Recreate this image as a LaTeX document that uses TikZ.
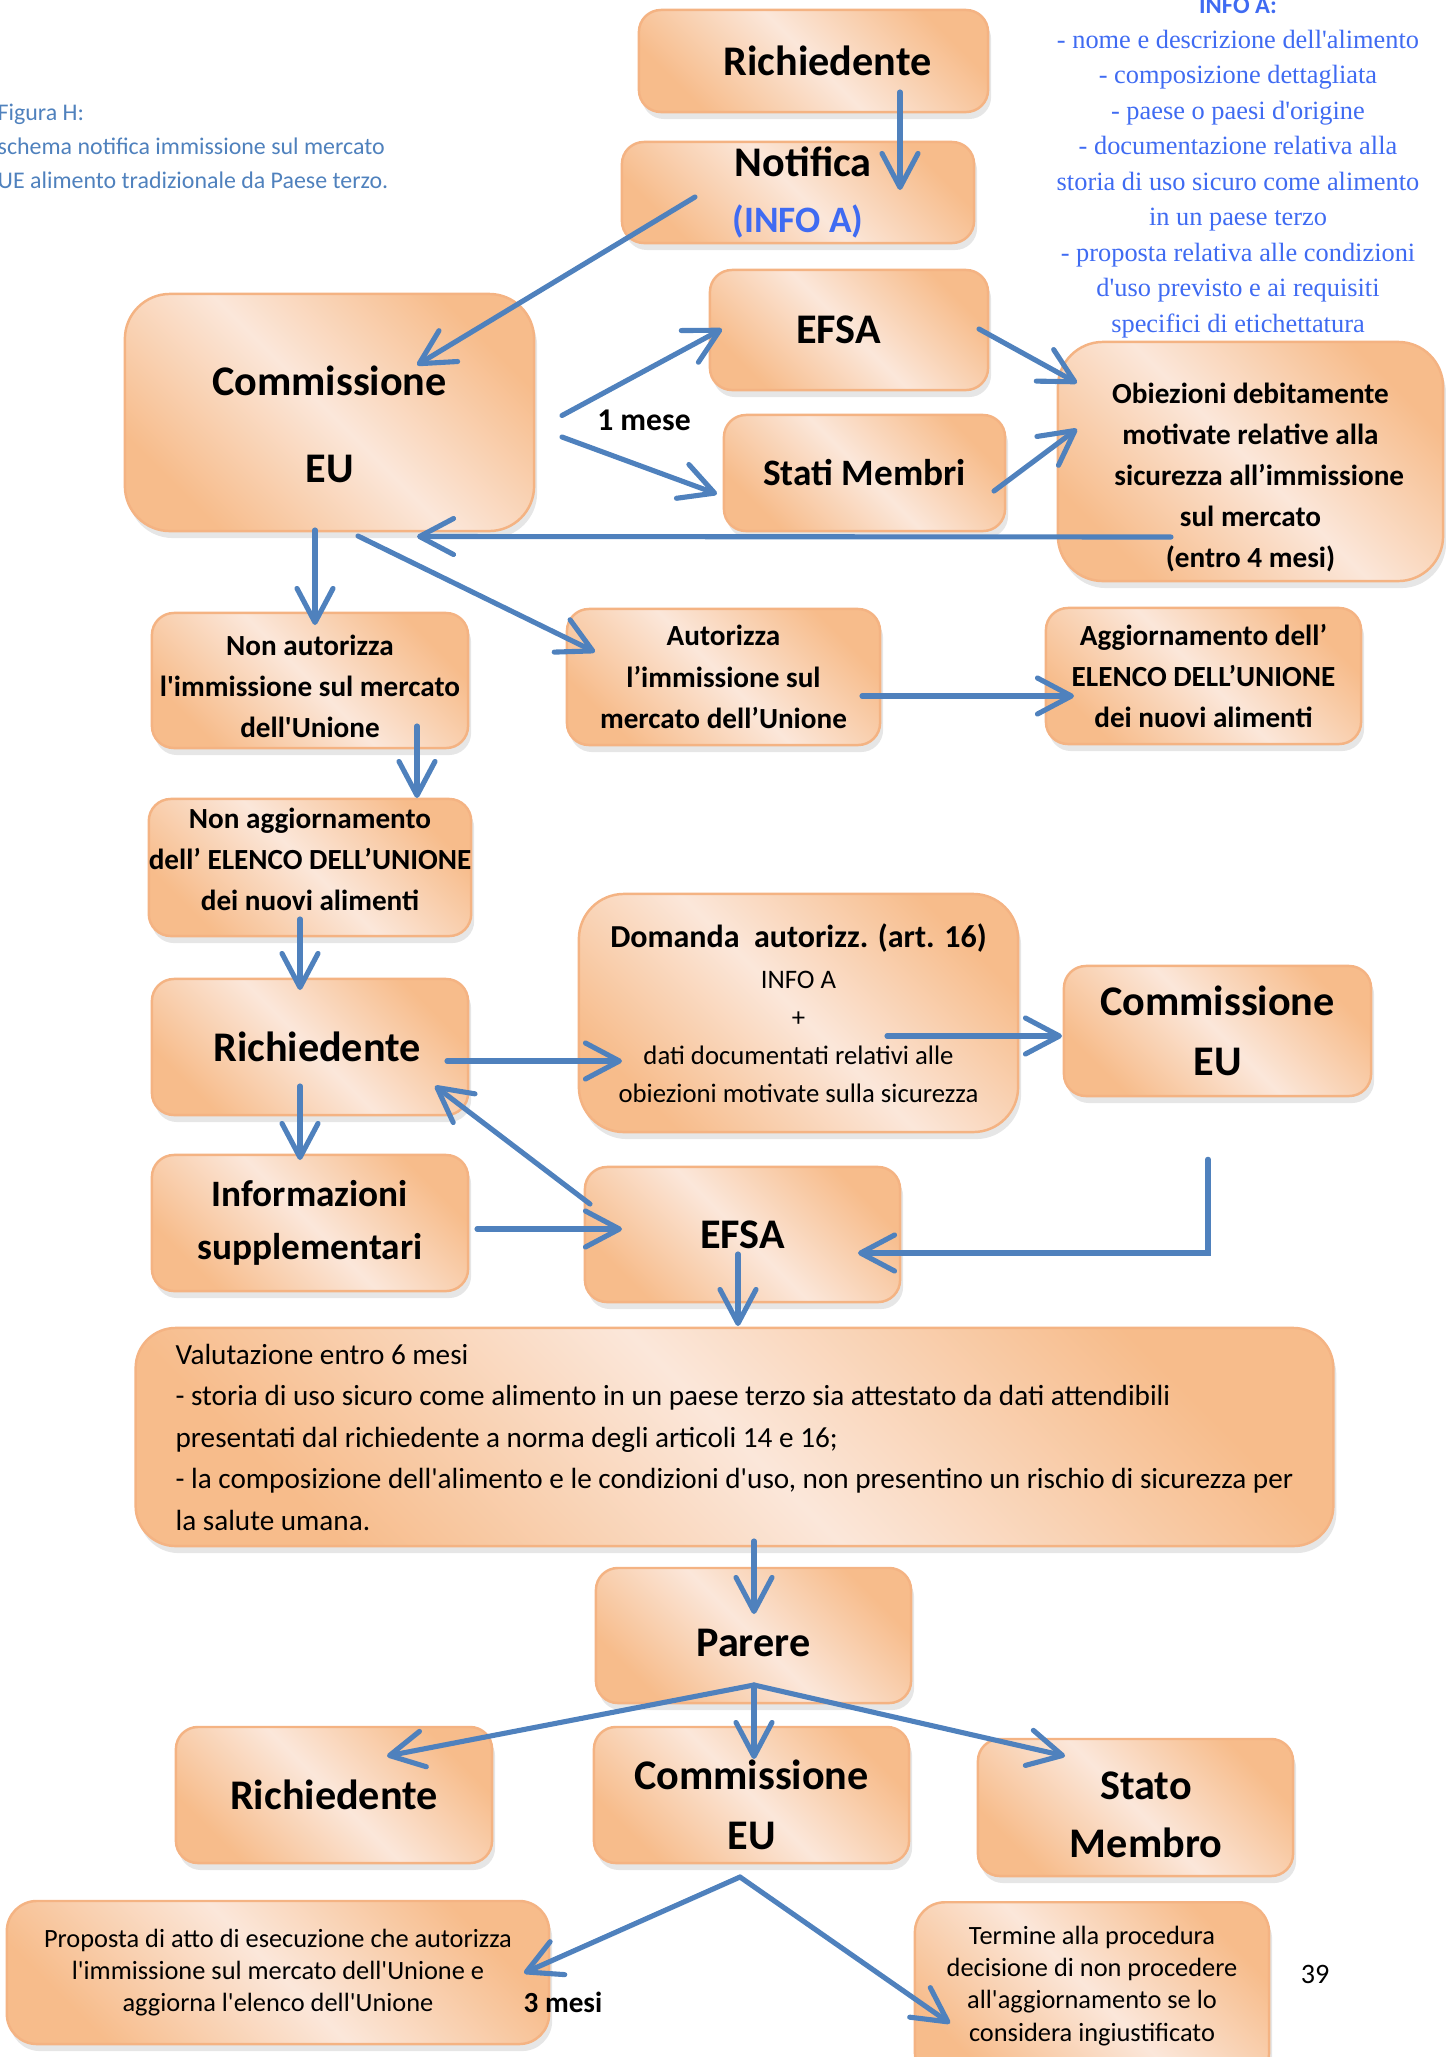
\documentclass[tikz,border=0pt]{standalone}
\usepackage{fontspec}
\setmainfont{Carlito}[Ligatures=TeXOff]
\newfontfamily\infofont{Liberation Serif}[Ligatures=TeXOff]
\usetikzlibrary{arrows.meta,shadows}
\definecolor{boxorange}{HTML}{F7BC8B}
\definecolor{boxlight}{HTML}{FBE7DA}
\definecolor{boxline}{HTML}{F4B383}
\definecolor{arrowblue}{HTML}{4F81BD}
\definecolor{infoblue}{HTML}{3F6BF2}
\definecolor{capblue}{HTML}{4F81BD}
\tikzset{
  box/.style={draw=boxline, line width=0.7pt, rounded corners=0.22cm,
    top color=boxorange, bottom color=boxorange, middle color=boxlight,
    shading angle=-45, align=center, inner sep=0pt,
    drop shadow={opacity=0.2, shadow xshift=0.03cm, shadow yshift=-0.07cm}},
  title/.style={font=\fontsize{12}{#1}\selectfont\bfseries},
  title/.default=15.6,
  smallbold/.style={font=\fontsize{8.3}{11.7}\selectfont\bfseries},
  flow/.style={draw=arrowblue, line width=1.45pt, line cap=round,
    -{Straight Barb[length=0.34cm, width=0.36cm, round]}},
}
\begin{document}
\begin{tikzpicture}[x=0.01cm, y=-0.01cm]
	\useasboundingbox (0,0) rectangle (1446,2057);

	% caption and info list
	\node[anchor=west, align=left, inner sep=0pt, text=capblue,
		font=\fontsize{6.8}{9.7}\selectfont] (caption) at (-3,146)
		{Figura H:\\schema notifica immissione sul mercato\\UE alimento tradizionale da Paese terzo.};
	\node[anchor=base, inner sep=0pt, text=infoblue, font=\fontsize{7}{9}\selectfont\bfseries]
		(infohead) at (1238,13) {INFO A:};
	\node[align=center, inner sep=0pt, text=infoblue, font=\infofont\fontsize{7.5}{10.1}\selectfont]
		(infolist) at (1238,184) {- nome e descrizione dell'alimento\\- composizione dettagliata\\
		- paese o paesi d'origine\\- documentazione relativa alla\\storia di uso sicuro come alimento\\
		in un paese terzo\\- proposta relativa alle condizioni\\d'uso previsto e ai requisiti\\
		specifici di etichettatura};

	% notifica
	\node[box, title, minimum width=3.49cm, minimum height=1.02cm] (richA) at (813.5,61)
		{\hspace*{8pt}Richiedente};
	\node[box, title=16, minimum width=3.52cm, minimum height=1.01cm] (notif) at (798,192.5)
		{\hspace*{3pt}Notifica\\{\color{infoblue}\fontsize{10.6}{13}\selectfont (INFO A)}};
	\node[box, title=24.7, rounded corners=0.45cm, minimum width=4.09cm, minimum height=2.37cm]
		(commA) at (329.5,412.5) {\rule{0pt}{15pt}Commissione\\EU};
	\node[box, title, minimum width=2.78cm, minimum height=1.2cm] (efsaA) at (849,330)
		{EFSA\hspace*{6pt}};
	\node[box, font=\fontsize{10.6}{13}\selectfont\bfseries, minimum width=2.81cm, minimum height=1.16cm]
		(stati) at (864.5,473) {Stati Membri};
	\node[box, smallbold, rounded corners=0.45cm, minimum width=3.85cm, minimum height=2.39cm]
		(obiez) at (1250.5,461.5) {\rule{0pt}{15pt}Obiezioni debitamente\\motivate relative alla\\
		\hspace*{5pt}sicurezza all’immissione\\sul mercato\\(entro 4 mesi)};
	\node[font=\fontsize{9}{11}\selectfont\bfseries, inner sep=0pt] (mese1) at (644,420) {1 mese};

	% esito
	\node[box, smallbold, minimum width=3.16cm, minimum height=1.35cm] (nonaut) at (310,680.5)
		{\rule{0pt}{9pt}Non autorizza\\l'immissione sul mercato\\dell'Unione};
	\node[box, smallbold, minimum width=3.13cm, minimum height=1.36cm] (autor) at (723.5,677)
		{Autorizza\\l’immissione sul\\mercato dell’Unione};
	\node[box, smallbold, minimum width=3.15cm, minimum height=1.36cm] (aggior) at (1203.5,676)
		{Aggiornamento dell’\\ELENCO DELL’UNIONE\\dei nuovi alimenti};
	\node[box, smallbold, minimum width=3.16cm, minimum height=1.37cm] (nonagg) at (310,867.5)
		{Non aggiornamento\\dell’ ELENCO DELL’UNIONE\\dei nuovi alimenti\rule[-4.5pt]{0pt}{1pt}};

	% domanda
	\node[box, rounded corners=0.45cm, font=\fontsize{7.6}{10.8}\selectfont,
		minimum width=4.39cm, minimum height=2.38cm] (domanda) at (798.5,1013)
		{{\fontsize{9.1}{11}\selectfont\bfseries Domanda\ \ autorizz. (art. 16)}\\[1pt]
		INFO A\\+\\dati documentati relativi alle\\obiezioni motivate sulla sicurezza};
	\node[box, title=17, minimum width=3.07cm, minimum height=1.3cm] (commB) at (1217.5,1031)
		{Commissione\\EU};
	\node[box, title, minimum width=3.16cm, minimum height=1.36cm] (richB) at (310,1047)
		{\hspace*{4pt}Richiedente};
	\node[box, font=\fontsize{10.6}{15}\selectfont\bfseries, minimum width=3.16cm, minimum height=1.36cm]
		(inform) at (310,1223) {Informazioni\\supplementari};
	\node[box, title, minimum width=3.15cm, minimum height=1.35cm] (efsaB) at (742.5,1234.5) {EFSA};

	% valutazione
	\node[box, rounded corners=0.4cm, align=left, font=\fontsize{8.3}{11.8}\selectfont,
		minimum width=11.97cm, minimum height=2.18cm] (valut) at (734.5,1437)
		{Valutazione entro 6 mesi\\
		- storia di uso sicuro come alimento in un paese terzo sia attestato da dati attendibili\\
		presentati dal richiedente a norma degli articoli 14 e 16;\\
		- la composizione dell'alimento e le condizioni d'uso, non presentino un rischio di sicurezza per\\
		la salute umana.};
	\node[box, title, minimum width=3.15cm, minimum height=1.35cm] (parere) at (753.5,1635.5)
		{\rule{0pt}{12pt}Parere};
	\node[box, title, minimum width=3.16cm, minimum height=1.36cm] (richC) at (334,1795) {Richiedente};
	\node[box, title=17, minimum width=3.15cm, minimum height=1.36cm] (commC) at (751.5,1795)
		{\rule{0pt}{14pt}Commissione\\EU};
	\node[box, title=16.5, minimum width=3.15cm, minimum height=1.37cm] (stato) at (1135.5,1807.5)
		{\rule{0pt}{12pt}\hspace*{6pt}Stato\\\hspace*{6pt}Membro};
	\node[box, rounded corners=0.3cm, font=\fontsize{7.5}{9.2}\selectfont,
		minimum width=5.42cm, minimum height=1.43cm] (propos) at (278,1972.5)
		{Proposta di atto di esecuzione che autorizza\\l'immissione sul mercato dell'Unione e\\
		aggiorna l'elenco dell'Unione};
	\node[box, rounded corners=0.3cm, font=\fontsize{7.5}{9.2}\selectfont, anchor=north,
		minimum width=3.54cm, minimum height=1.8cm] (termine) at (1092,1901)
		{Termine alla procedura\\decisione di non procedere\\all'aggiornamento se lo\\
		considera ingiustificato\rule[-5pt]{0pt}{1pt}};
	\node[font=\fontsize{8.3}{10}\selectfont\bfseries, inner sep=0pt] (mesi3) at (563,2002) {3 mesi};
	\node[font=\fontsize{8}{10}\selectfont, inner sep=0pt] (pagenum) at (1315,1974) {39};

	% frecce
	\draw[flow] ([shift={(86.5,31)}]richA.center) -- ([shift={(102,-2.5)}]notif.center);
	\draw[flow] ([shift={(-103,4.5)}]notif.center) -- ([shift={(87.5,-47.5)}]commA.center);
	\draw[flow] ([shift={(232.5,3)}]commA.center) -- ([shift={(-127,-1)}]efsaA.center);
	\draw[flow] ([shift={(232.5,24.5)}]commA.center) -- ([shift={(-147.5,21)}]stati.center);
	\draw[flow] ([shift={(130,-1)}]efsaA.center) -- ([shift={(-173.5,-78.5)}]obiez.center);
	\draw[flow] ([shift={(129.5,18)}]stati.center) -- ([shift={(-173.5,-32.5)}]obiez.center);
	\draw[flow] ([shift={(-79.5,75.5)}]obiez.center) -- ([shift={(87.5,124)}]commA.center);
	\draw[flow] ([shift={(-14.5,117.5)}]commA.center) -- ([shift={(5,-55.5)}]nonaut.center);
	\draw[flow] ([shift={(28.5,123.5)}]commA.center) -- ([shift={(-128.5,-25)}]autor.center);
	\draw[flow] ([shift={(138.5,19)}]autor.center) -- ([shift={(-129.5,20)}]aggior.center);
	\draw[flow] ([shift={(107,45.5)}]nonaut.center) -- ([shift={(107,-69.5)}]nonagg.center);
	\draw[flow] ([shift={(-10,51.5)}]nonagg.center) -- ([shift={(-10,-57)}]richB.center);
	\draw[flow] ([shift={(137,14)}]richB.center) -- ([shift={(-176.5,48)}]domanda.center);
	\draw[flow] ([shift={(88.5,23)}]domanda.center) -- ([shift={(-155.5,5)}]commB.center);
	\draw[flow] ([shift={(-10,39)}]richB.center) -- ([shift={(-10,-63)}]inform.center);
	\draw[flow] ([shift={(-152.5,-30.5)}]efsaB.center) -- ([shift={(125,39)}]richB.center);
	\draw[flow] ([shift={(167,6)}]inform.center) -- ([shift={(-120.5,-5.5)}]efsaB.center);
	\draw[flow] ([shift={(-9.5,62)}]commB.south) |- ([shift={(115.5,18.5)}]efsaB.center);
	\draw[flow] ([shift={(-4.5,19.5)}]efsaB.center) -- ([shift={(3.5,-111)}]valut.center);
	\draw[flow] ([shift={(19.5,104)}]valut.center) -- ([shift={(0.5,-21.5)}]parere.center);

	\coordinate (parfan) at ([shift={(0.5,49.5)}]parere.center);
	\draw[flow] (parfan) -- ([shift={(53,-39)}]richC.center);
	\draw[flow] (parfan) -- ([shift={(2.5,-36)}]commC.center);
	\draw[flow] (parfan) -- ([shift={(-70.5,-51.5)}]stato.center);

	\coordinate (commfan) at ([shift={(-11.5,82)}]commC.center);
	\draw[flow] (commfan) -- ([shift={(246,0.5)}]propos.center);
	\draw[flow] (commfan) -- ([shift={(-142,31)}]termine.center);
\end{tikzpicture}
\end{document}
